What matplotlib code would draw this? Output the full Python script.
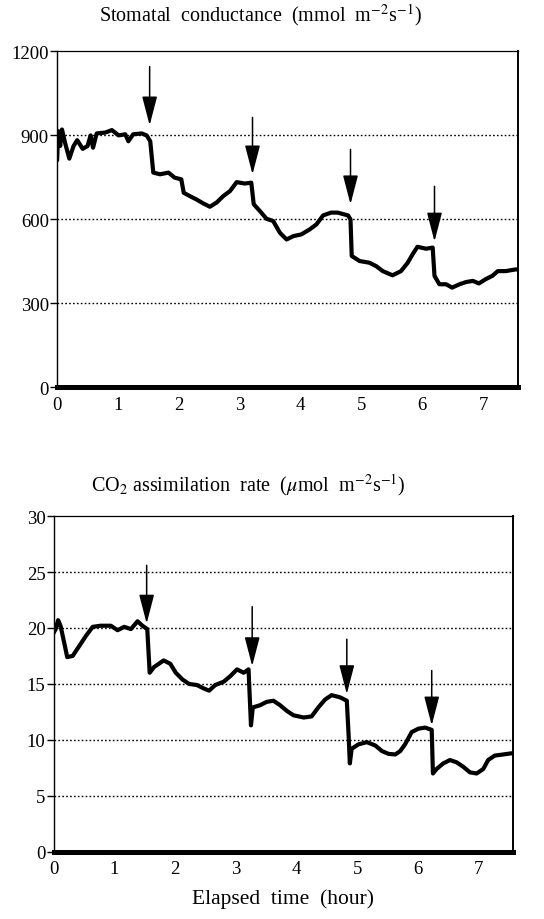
import matplotlib
matplotlib.use("Agg")
import matplotlib.pyplot as plt
import numpy as np

plt.rcParams['font.family'] = ['Liberation Serif', 'DejaVu Serif']
plt.rcParams['mathtext.fontset'] = 'stix'

# stomatal conductance trace (hour, mmol m-2 s-1)
gs_t = [0.00, 0.02, 0.05, 0.08, 0.13, 0.20, 0.27, 0.33, 0.42, 0.50, 0.55, 0.59,
        0.65, 0.79, 0.90, 1.01, 1.12, 1.17, 1.25, 1.39, 1.47, 1.53, 1.58, 1.69,
        1.83, 1.93, 2.04, 2.08, 2.18, 2.29, 2.40, 2.51, 2.62, 2.73, 2.84, 2.95,
        3.08, 3.19, 3.23, 3.33, 3.44, 3.55, 3.66, 3.77, 3.88, 4.01, 4.15, 4.26,
        4.37, 4.50, 4.61, 4.78, 4.82, 4.84, 4.97, 5.13, 5.24, 5.35, 5.51, 5.65,
        5.76, 5.84, 5.92, 6.06, 6.17, 6.20, 6.28, 6.39, 6.49, 6.61, 6.72, 6.83,
        6.93, 7.04, 7.15, 7.24, 7.37, 7.53, 7.57]
gs_v = [814, 915, 862, 921, 874, 817, 862, 883, 852, 862, 900, 856,
        907, 910, 919, 900, 904, 879, 904, 907, 900, 879, 767, 761,
        767, 749, 743, 695, 683, 671, 657, 645, 660, 683, 701, 733,
        728, 731, 654, 630, 602, 594, 552, 528, 540, 546, 564, 582,
        614, 624, 624, 614, 600, 469, 451, 445, 433, 415, 400, 415,
        445, 475, 502, 495, 499, 398, 368, 368, 356, 368, 376, 380,
        371, 386, 398, 415, 415, 421, 421]

# CO2 assimilation trace (hour, umol m-2 s-1)
a_t = [0.00, 0.03, 0.07, 0.11, 0.17, 0.22, 0.31, 0.42, 0.53, 0.64, 0.77, 0.94,
       1.05, 1.16, 1.27, 1.38, 1.46, 1.54, 1.58, 1.65, 1.81, 1.92, 2.01, 2.12,
       2.23, 2.36, 2.47, 2.56, 2.66, 2.80, 2.91, 3.02, 3.13, 3.21, 3.25, 3.28,
       3.40, 3.51, 3.62, 3.73, 3.84, 3.95, 4.12, 4.25, 4.36, 4.47, 4.58, 4.72,
       4.83, 4.86, 4.88, 4.91, 5.02, 5.16, 5.30, 5.41, 5.52, 5.63, 5.71, 5.79,
       5.90, 6.01, 6.12, 6.23, 6.25, 6.31, 6.42, 6.53, 6.64, 6.75, 6.86, 6.97,
       7.08, 7.16, 7.27, 7.41, 7.54, 7.57]
a_v = [19.6, 19.9, 20.7, 20.2, 18.7, 17.4, 17.5, 18.4, 19.3, 20.1, 20.2, 20.2,
       19.8, 20.1, 19.9, 20.6, 20.2, 19.9, 16.0, 16.5, 17.1, 16.8, 16.0, 15.4,
       15.0, 14.9, 14.6, 14.4, 14.9, 15.2, 15.7, 16.3, 16.0, 16.3, 11.3, 12.9,
       13.1, 13.4, 13.5, 13.1, 12.6, 12.2, 12.0, 12.1, 12.9, 13.6, 14.0, 13.8,
       13.5, 10.4, 7.9, 9.2, 9.6, 9.8, 9.5, 9.0, 8.75, 8.7, 9.0, 9.6,
       10.7, 11.0, 11.1, 10.9, 7.0, 7.4, 7.9, 8.2, 8.0, 7.6, 7.1, 7.0,
       7.4, 8.2, 8.6, 8.7, 8.8, 8.8]

# arrow markers: time, tail value, tip value
gs_arrow_t = [1.52, 3.21, 4.82, 6.20]
gs_arrow_tail = [1146, 964, 850, 718]
gs_arrow_tip = [936, 761, 654, 521]
a_arrow_t = [1.53, 3.27, 4.83, 6.23]
a_arrow_tail = [25.6, 21.9, 19.0, 16.2]
a_arrow_tip = [20.4, 16.6, 14.1, 11.3]

gs_ticks = [0, 300, 600, 900, 1200]
a_ticks = [0, 5, 10, 15, 20, 25, 30]
x_ticks = [0, 1, 2, 3, 4, 5, 6, 7]

fig = plt.figure(figsize=(5.44, 9.2), dpi=100)
ax1 = fig.add_axes([0.105, 0.578, 0.847, 0.365])
ax2 = fig.add_axes([0.099, 0.073, 0.844, 0.365])


def style(ax, yticks, ymax):
    ax.set_xlim(0, 7.57)
    ax.set_ylim(0, ymax)
    ax.set_yticks(yticks)
    ax.set_xticks(x_ticks)
    for y in yticks[1:-1]:
        ax.axhline(y, color='black', lw=1.0, ls=(0, (1.2, 1.6)), zorder=1)
    ax.spines['bottom'].set_linewidth(3.6)
    ax.spines['left'].set_linewidth(1.0)
    ax.spines['top'].set_linewidth(0.9)
    ax.spines['right'].set_linewidth(1.4)
    ax.tick_params(axis='y', length=5, width=1.0, labelsize=13.5, pad=1)
    ax.tick_params(axis='x', length=0, labelsize=13.5, pad=6)


def arrows(ax, ts, tails, tips):
    for t, a, b in zip(ts, tails, tips):
        ax.annotate('', xy=(t, b), xytext=(t, a),
                    arrowprops=dict(arrowstyle='-|>,head_length=1.0,head_width=0.26',
                                    mutation_scale=18, lw=1.1, color='black',
                                    shrinkA=0, shrinkB=0), zorder=4)


ax1.plot(gs_t, gs_v, color='black', lw=3.0, solid_joinstyle='round', zorder=3)
style(ax1, gs_ticks, 1200)
arrows(ax1, gs_arrow_t, gs_arrow_tail, gs_arrow_tip)

ax2.plot(a_t, a_v, color='black', lw=3.0, solid_joinstyle='round', zorder=3)
style(ax2, a_ticks, 30)
arrows(ax2, a_arrow_t, a_arrow_tail, a_arrow_tip)
ax2.set_xlabel('Elapsed  time  (hour)', fontsize=15.5, labelpad=8)

fig.text(0.478, 0.984, 'Stomatal  conductance  (mmol  m$^{-2}$s$^{-1}$)',
         ha='center', va='center', fontsize=14.5)
fig.text(0.456, 0.473, 'CO$_2$ assimilation  rate  ($\\mu$mol  m$^{-2}$s$^{-1}$)',
         ha='center', va='center', fontsize=14.5)

fig.savefig('out.png', dpi=100)
